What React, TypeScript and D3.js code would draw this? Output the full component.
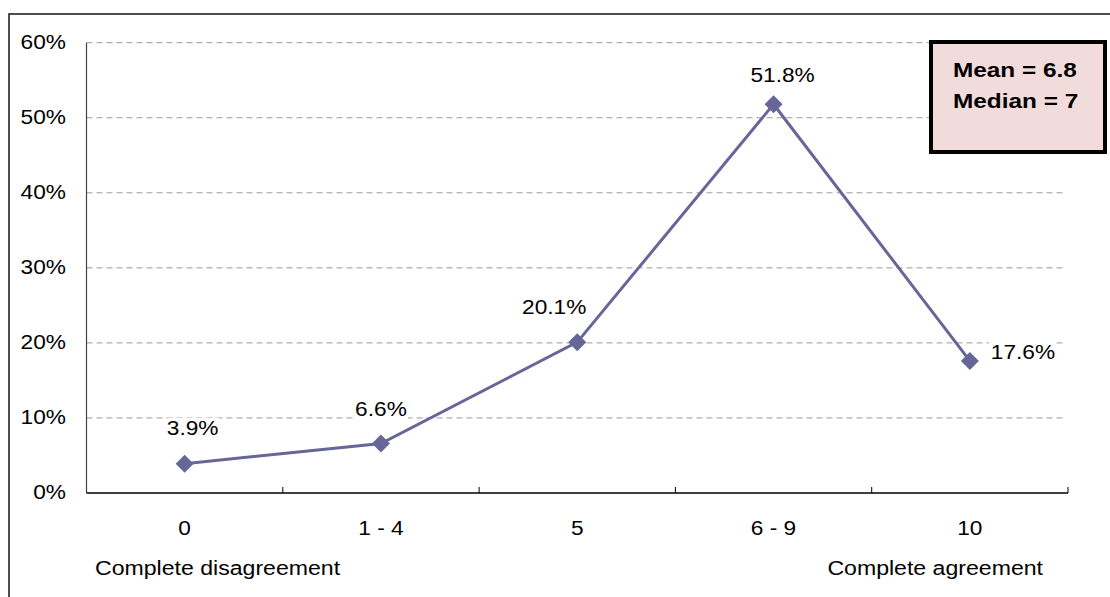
import React from "react";
import * as d3 from "d3";

const categories = ["0", "1 - 4", "5", "6 - 9", "10"];
const values = [0.039, 0.066, 0.201, 0.518, 0.176];
const valueLabels = ["3.9%", "6.6%", "20.1%", "51.8%", "17.6%"];
const yTicks = [0, 0.1, 0.2, 0.3, 0.4, 0.5, 0.6];
const statLines = ["Mean = 6.8", "Median = 7"];
const endLabels = ["Complete disagreement", "Complete agreement"];

// label placement (layout only)
const labelOffsets = [
  { dx: 8, dy: -29, anchor: "middle" },
  { dx: 0, dy: -27, anchor: "middle" },
  { dx: -23, dy: -28, anchor: "middle" },
  { dx: 9, dy: -22, anchor: "middle" },
  { dx: 21, dy: -2, anchor: "start" },
];

const W = 1110;
const H = 597;
const left = 86.5;
const right = 1068;
const top = 42.7;
const bottom = 493;
const FONT = "'Liberation Sans', Arial, sans-serif";
const LINE = "#666699";

function SText({ x, y, anchor = "start", size = 21, weight = "normal", sx = 1.08, children }: any) {
  return (
    <text
      transform={`translate(${x},${y}) scale(${sx},1)`}
      textAnchor={anchor}
      fontFamily={FONT}
      fontSize={size}
      fontWeight={weight}
      fill="#000"
    >
      {children}
    </text>
  );
}

export default function App() {
  const x = d3.scaleBand<string>().domain(categories).range([left, right]).padding(0);
  const y = d3.scaleLinear().domain([0, 0.6]).range([bottom, top]);
  const cx = (c: string) => (x(c) as number) + x.bandwidth() / 2;

  const line = d3
    .line<number>()
    .x((_, i) => cx(categories[i]))
    .y((d) => y(d));

  const boundaries = categories.map((c) => (x(c) as number) + x.bandwidth());
  const diamond = (px: number, py: number, r: number) =>
    `M${px},${py - r}L${px + r},${py}L${px},${py + r}L${px - r},${py}Z`;

  return (
    <svg
      width={W}
      height={H}
      style={{ position: "absolute", left: 0, top: 0, background: "#fff" }}
    >
      <rect x={0} y={0} width={W} height={H} fill="#fff" />
      <rect x={9} y={14} width={1200} height={700} fill="#fff" stroke="#222" strokeWidth={1.6} />

      {/* gridlines */}
      {yTicks.slice(1).map((t) => (
        <line
          key={t}
          x1={left}
          x2={right - 4}
          y1={y(t)}
          y2={y(t)}
          stroke="#9a9a9a"
          strokeWidth={1}
          strokeDasharray="6,4"
        />
      ))}

      {/* axes */}
      <line x1={left} x2={left} y1={top} y2={bottom} stroke="#444" strokeWidth={1.2} />
      <line x1={left} x2={right} y1={bottom} y2={bottom} stroke="#000" strokeWidth={1.3} />
      {boundaries.map((b, i) => (
        <line key={i} x1={b} x2={b} y1={bottom} y2={bottom - 6} stroke="#000" strokeWidth={1} />
      ))}

      {/* y tick labels */}
      {yTicks.map((t) => (
        <SText key={t} x={66} y={y(t) + 6} anchor="end">
          {`${Math.round(t * 100)}%`}
        </SText>
      ))}

      {/* x tick labels */}
      {categories.map((c) => (
        <SText key={c} x={cx(c)} y={535} anchor="middle">
          {c}
        </SText>
      ))}
      <SText x={95} y={575} anchor="start" sx={1.1}>
        {endLabels[0]}
      </SText>
      <SText x={1043} y={575} anchor="end" sx={1.1}>
        {endLabels[1]}
      </SText>

      {/* series */}
      <path d={line(values) as string} fill="none" stroke={LINE} strokeWidth={3} />
      {values.map((v, i) => (
        <path key={i} d={diamond(cx(categories[i]), y(v), 9)} fill={LINE} />
      ))}

      {/* data labels */}
      {values.map((v, i) => {
        const o = labelOffsets[i];
        const lx = cx(categories[i]) + o.dx;
        const ly = y(v) + o.dy;
        const w = valueLabels[i].length * 12.5;
        const rx = o.anchor === "middle" ? lx - w / 2 : lx - 2;
        return (
          <g key={i}>
            <rect x={rx} y={ly - 17} width={w + 2} height={20} fill="#fff" />
            <SText x={lx} y={ly} anchor={o.anchor}>
              {valueLabels[i]}
            </SText>
          </g>
        );
      })}

      {/* stats box */}
      <rect x={931} y={42} width={174} height={110} fill="#F2DCDB" stroke="#000" strokeWidth={4} />
      {statLines.map((s, i) => (
        <SText key={i} x={953} y={77 + i * 31} weight="bold" size={21} sx={1.16}>
          {s}
        </SText>
      ))}
    </svg>
  );
}
